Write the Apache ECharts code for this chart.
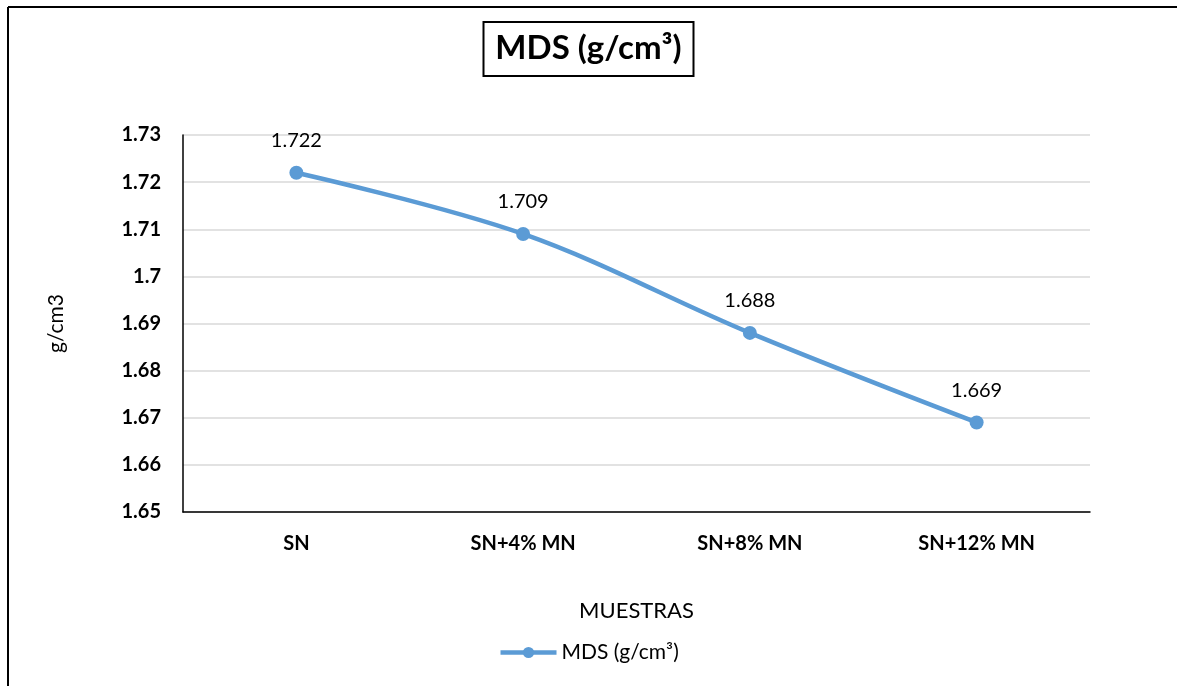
<!DOCTYPE html>
<html>
<head>
<meta charset="utf-8">
<script src="https://cdn.jsdelivr.net/npm/echarts@6/dist/echarts.min.js"></script>
<style>
html,body{margin:0;padding:0;background:#fff;overflow:hidden;}
#chart{width:1177px;height:686px;}
</style>
</head>
<body>
<div id="chart"></div>
<script>
const categories = ['SN', 'SN+4% MN', 'SN+8% MN', 'SN+12% MN'];
const mdsValues = [1.722, 1.709, 1.688, 1.669];
const seriesName = 'MDS (g/cm³)';
const yMin = 1.65, yMax = 1.73, yInterval = 0.01;

const FONT = 'Lato, "Open Sans", sans-serif';
const chart = echarts.init(document.getElementById('chart'));
chart.setOption({
  backgroundColor: '#fff',
  animation: false,
  title: {
    text: seriesName,
    left: 'center',
    top: 22,
    padding: [10, 12, 11, 12],
    borderColor: '#000',
    borderWidth: 2,
    textStyle: { fontFamily: FONT, fontSize: 33, fontWeight: 'bold', color: '#000' }
  },
  graphic: [
    { type: 'line', shape: { x1: 8, y1: 7, x2: 8, y2: 700 }, style: { stroke: '#000', lineWidth: 2 }, silent: true },
    { type: 'line', shape: { x1: 8, y1: 7, x2: 1177, y2: 7 }, style: { stroke: '#000', lineWidth: 2 }, silent: true }
  ],
  legend: {
    bottom: 18,
    left: 'center',
    itemWidth: 56,
    itemHeight: 14,
    itemGap: 4,
    lineStyle: { width: 4.5 },
    textStyle: { fontFamily: FONT, fontSize: 21, color: '#000' },
    data: [seriesName]
  },
  grid: { left: 183, right: 87, top: 135, bottom: 174 },
  xAxis: {
    type: 'category',
    data: categories,
    name: 'MUESTRAS',
    nameLocation: 'middle',
    nameGap: 88,
    nameTextStyle: { fontFamily: FONT, fontSize: 22, color: '#000' },
    axisLine: { lineStyle: { color: '#000', width: 1.5 } },
    axisTick: { show: false },
    axisLabel: { fontFamily: FONT, fontSize: 20, fontWeight: 'bold', color: '#000', margin: 22 }
  },
  yAxis: {
    type: 'value',
    min: yMin, max: yMax, interval: yInterval,
    name: 'g/cm3',
    nameLocation: 'middle',
    nameGap: 116,
    nameRotate: 90,
    nameTextStyle: { fontFamily: FONT, fontSize: 21, color: '#000' },
    axisLine: { show: true, lineStyle: { color: '#000', width: 1.5 } },
    axisTick: { show: false },
    axisLabel: {
      fontFamily: FONT, fontSize: 20, fontWeight: 'bold', color: '#000', margin: 22,
      formatter: v => String(parseFloat(v.toFixed(2)))
    },
    splitLine: { lineStyle: { color: '#d9d9d9', width: 1.5 } }
  },
  series: [{
    name: seriesName,
    type: 'line',
    data: mdsValues,
    smooth: 0.35,
    symbol: 'circle',
    symbolSize: 14,
    lineStyle: { color: '#5B9BD5', width: 4.5 },
    itemStyle: { color: '#5B9BD5' },
    label: {
      show: true,
      position: 'top',
      distance: 15,
      fontFamily: FONT,
      fontSize: 20,
      color: '#000',
      formatter: p => p.value.toFixed(3)
    }
  }]
});
</script>
</body>
</html>
